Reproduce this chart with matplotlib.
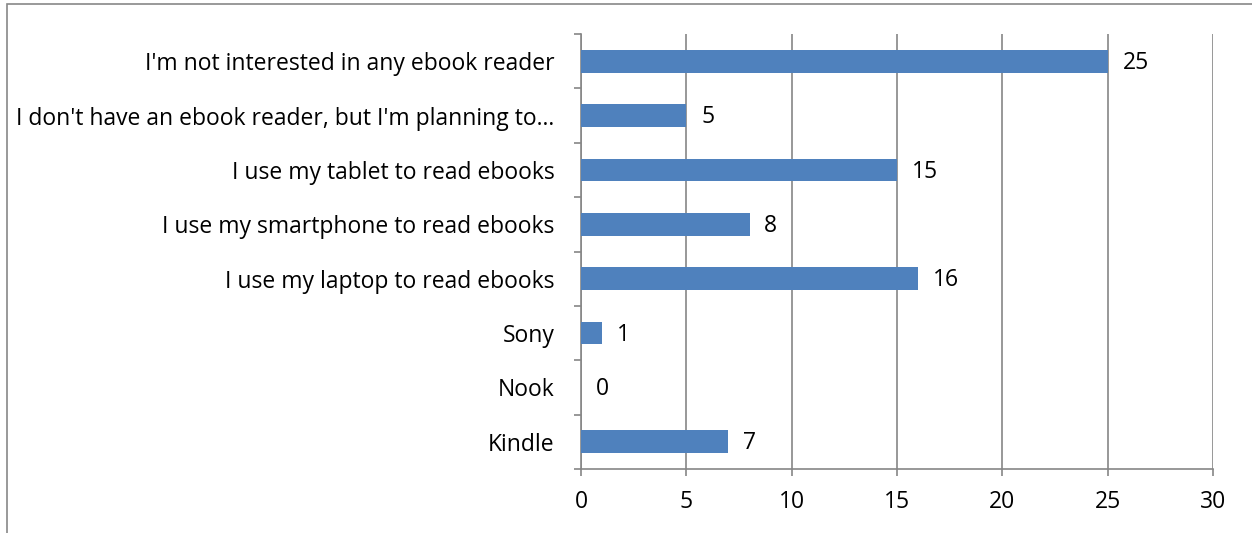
import matplotlib.pyplot as plt
from matplotlib.patches import Rectangle

categories = ["Kindle", "Nook", "Sony",
              "I use my laptop to read ebooks",
              "I use my smartphone to read ebooks",
              "I use my tablet to read ebooks",
              "I don't have an ebook reader, but I'm planning to\u2026",
              "I'm not interested in any ebook reader"]
values = [7, 0, 1, 16, 8, 15, 5, 25]
xticks = [0, 5, 10, 15, 20, 25, 30]

plt.rcParams['font.family'] = ['Open Sans', 'DejaVu Sans']
fs = 16.5

fig = plt.figure(figsize=(12.52, 5.33), dpi=100)
ax = fig.add_axes([581 / 1252, 1 - 469 / 533, (1213 - 581) / 1252, (469 - 34) / 533])

pos = list(range(len(categories)))
ax.barh(pos, values, height=0.42, color='#4F81BD', zorder=3)
for p, v in zip(pos, values):
    ax.text(v + 0.7, p - 0.03, str(v), va='center', ha='left', fontsize=fs, color='black')

ax.set_xlim(0, 30)
ax.set_ylim(-0.5, len(categories) - 0.5)
ax.set_xticks(xticks)
ax.set_xticklabels([str(t) for t in xticks], fontsize=fs)
ax.set_yticks(pos)
ax.set_yticklabels(categories, fontsize=fs)
ax.tick_params(axis='y', length=0, pad=19)
ax.set_yticks([p - 0.5 for p in pos] + [len(pos) - 0.5], minor=True)
ax.tick_params(axis='y', which='minor', length=5, color='#868686', width=1.2)
ax.tick_params(axis='x', length=5, color='#868686', width=1.2, pad=10)
ax.grid(axis='x', color='#868686', linewidth=1.2, zorder=0)
for s in ['top', 'right']:
    ax.spines[s].set_visible(False)
for s in ['left', 'bottom']:
    ax.spines[s].set_color('#868686')
    ax.spines[s].set_linewidth(1.2)

fig.add_artist(Rectangle((7 / 1252, -0.1), 1.2, 1 - 4 / 533 + 0.1,
                         transform=fig.transFigure, fill=False,
                         edgecolor='#888888', linewidth=1.2))

fig.savefig('out.png', dpi=100)
